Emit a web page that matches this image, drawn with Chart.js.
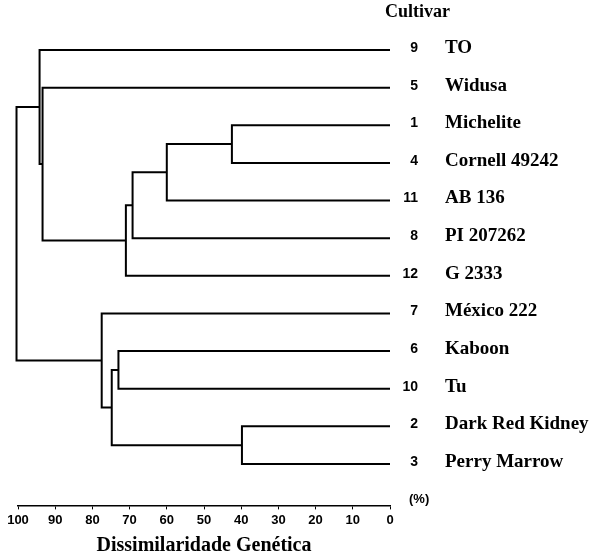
<!DOCTYPE html>
<html>
<head>
<meta charset="utf-8">
<script src="https://cdn.jsdelivr.net/npm/chart.js@4.4.1/dist/chart.umd.min.js"></script>
<style>
  html, body { margin: 0; padding: 0; background: #fff; }
  #wrap { width: 602px; height: 558px; }
</style>
</head>
<body>
<div id="wrap"><canvas id="myChart"></canvas></div>
<script>
// leaves, top to bottom
const cultivars = ['TO', 'Widusa', 'Michelite', 'Cornell 49242', 'AB 136', 'PI 207262',
  'G 2333', 'México 222', 'Kaboon', 'Tu', 'Dark Red Kidney', 'Perry Marrow']
const cultivarIds = [9, 5, 1, 4, 11, 8, 12, 7, 6, 10, 2, 3]

// merges: leaves are 0..11, each merge creates node 12, 13, ...
const mergeLeft   = [2, 12, 13, 14, 1, 0, 8, 10, 18, 7, 17]
const mergeRight  = [3, 4, 5, 6, 15, 16, 9, 11, 19, 20, 21]
const mergeHeight = [42.5, 60, 69.2, 71, 93.4, 94.2, 73, 39.8, 74.8, 77.5, 100.4]

const xTicks = [100, 90, 80, 70, 60, 50, 40, 30, 20, 10, 0]

// node positions (leaf row / height) built from the merges
const nodeY = cultivars.map((c, i) => i)
const nodeH = cultivars.map(() => 0)
const datasets = []
mergeLeft.forEach((a, k) => {
  const b = mergeRight[k]
  const h = mergeHeight[k]
  datasets.push({
    data: [
      { x: nodeH[a], y: nodeY[a] },
      { x: h, y: nodeY[a] },
      { x: h, y: nodeY[b] },
      { x: nodeH[b], y: nodeY[b] }
    ],
    showLine: true,
    borderColor: '#000',
    borderWidth: 2,
    pointRadius: 0,
    tension: 0,
    clip: false
  })
  nodeY.push((nodeY[a] + nodeY[b]) / 2)
  nodeH.push(h)
})

const serif = '"Liberation Serif", "Times New Roman", serif'
const sans = '"Liberation Sans", Arial, sans-serif'

const leafLabels = {
  id: 'leafLabels',
  afterDraw(chart) {
    const ctx = chart.ctx
    const area = chart.chartArea
    const y = chart.scales.y
    ctx.save()
    ctx.fillStyle = '#000'
    ctx.textBaseline = 'middle'
    cultivars.forEach((name, i) => {
      const py = y.getPixelForValue(i) - 2
      ctx.font = 'bold 14px ' + sans
      ctx.textAlign = 'right'
      ctx.fillText(String(cultivarIds[i]), area.right + 28, py)
      ctx.font = 'bold 19px ' + serif
      ctx.textAlign = 'left'
      ctx.fillText(name, area.right + 55, py)
    })
    ctx.font = 'bold 18px ' + serif
    ctx.textAlign = 'left'
    ctx.fillText('Cultivar', area.right - 5, 12)
    ctx.font = 'bold 13px ' + sans
    ctx.fillText('(%)', area.right + 19, area.bottom - 6)
    ctx.restore()
  }
}

const config = {
  type: 'scatter',
  data: { datasets },
  options: {
    responsive: true,
    maintainAspectRatio: false,
    animation: false,
    layout: { padding: { left: 18, right: 212, top: 3, bottom: 0 } },
    plugins: {
      legend: { display: false },
      tooltip: { enabled: false }
    },
    scales: {
      x: {
        type: 'linear',
        reverse: true,
        min: 0,
        max: 100,
        afterBuildTicks: (axis) => { axis.ticks = xTicks.map(v => ({ value: v })) },
        grid: { drawOnChartArea: false, drawTicks: true, tickLength: 4, color: '#000' },
        border: { color: '#000', width: 1.5 },
        ticks: { color: '#000', padding: 3, maxRotation: 0, font: { family: sans, size: 13, weight: 'bold' } },
        title: {
          display: true,
          text: 'Dissimilaridade Genética',
          color: '#000',
          padding: { top: 3, bottom: 0 },
          font: { family: serif, size: 20, weight: 'bold' }
        }
      },
      y: {
        type: 'linear',
        display: false,
        reverse: true,
        min: -1.25,
        max: 12.1
      }
    }
  },
  plugins: [leafLabels]
}

const myChart = new Chart(document.getElementById('myChart'), config)
</script>
</body>
</html>
